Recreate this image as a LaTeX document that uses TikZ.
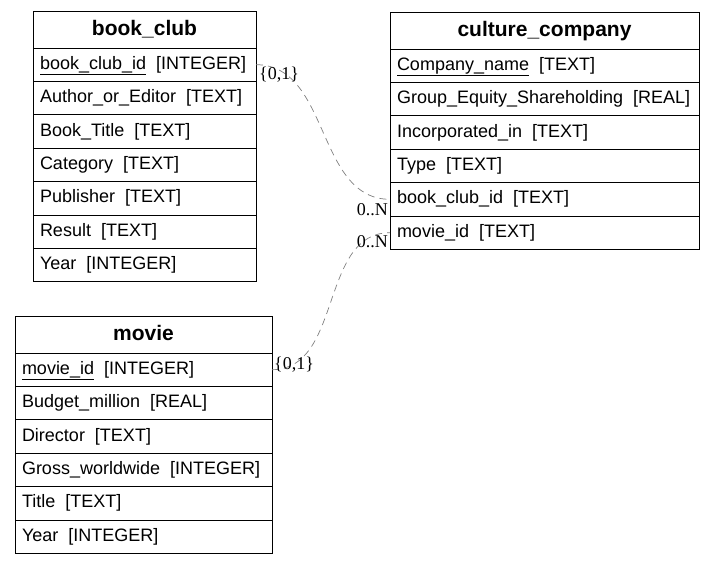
\documentclass[tikz,border=0pt]{standalone}
\usepackage{fontspec}
\setmainfont{Liberation Serif}
\newfontfamily\tblfont{Liberation Sans}
\usetikzlibrary{positioning}

\tikzset{
  tblhead/.style={draw, line width=0.8pt, outer sep=0pt, inner xsep=7pt, inner ysep=0pt,
    minimum height=37pt, font=\tblfont\fontsize{21}{24}\selectfont\bfseries,
    text height=15pt, text depth=4pt},
  tblrow/.style={draw, line width=0.8pt, outer sep=0pt, inner xsep=7pt, inner ysep=0pt,
    minimum height=33.4pt, font=\tblfont\fontsize{18}{21}\selectfont, align=left,
    text height=13pt, text depth=4pt},
  conn/.style={draw=gray, line width=0.7pt, dash pattern=on 7pt off 5pt},
  card/.style={inner sep=1pt, font=\fontsize{18}{20}\selectfont}
}
\newcommand{\fld}[2]{#1\hspace{10pt}[#2]}

\begin{document}
\begin{tikzpicture}[x=1pt, y=-1pt]
  \useasboundingbox (0,0) rectangle (716,565);

  % book_club
  \node[tblhead, anchor=north west, minimum width=223pt] (bc0) at (33,11) {book\_club};
  \foreach \t [count=\i] in {\fld{\underline{book\_club\_id}}{INTEGER}, \fld{Author\_or\_Editor}{TEXT},
      \fld{Book\_Title}{TEXT}, \fld{Category}{TEXT}, \fld{Publisher}{TEXT}, \fld{Result}{TEXT},
      \fld{Year}{INTEGER}} {
    \pgfmathtruncatemacro\j{\i-1}
    \node[tblrow, text width=209pt, below=0pt of bc\j] (bc\i) {\t};
  }

  % culture_company
  \node[tblhead, anchor=north west, minimum width=309pt] (cc0) at (390,12) {culture\_company};
  \foreach \t [count=\i] in {\fld{\underline{Company\_name}}{TEXT}, \fld{Group\_Equity\_Shareholding}{REAL},
      \fld{Incorporated\_in}{TEXT}, \fld{Type}{TEXT}, \fld{book\_club\_id}{TEXT}, \fld{movie\_id}{TEXT}} {
    \pgfmathtruncatemacro\j{\i-1}
    \node[tblrow, text width=295pt, below=0pt of cc\j] (cc\i) {\t};
  }

  % movie
  \node[tblhead, anchor=north west, minimum width=257pt] (mv0) at (15,316) {movie};
  \foreach \t [count=\i] in {\fld{\underline{movie\_id}}{INTEGER}, \fld{Budget\_million}{REAL},
      \fld{Director}{TEXT}, \fld{Gross\_worldwide}{INTEGER}, \fld{Title}{TEXT}, \fld{Year}{INTEGER}} {
    \pgfmathtruncatemacro\j{\i-1}
    \node[tblrow, text width=243pt, below=0pt of mv\j] (mv\i) {\t};
  }

  % relations
  \draw[conn] (bc1.east) to[out=0, in=180] (cc5.west);
  \node[card, anchor=north west] (l1a) at ([xshift=2pt, yshift=-1pt]bc1.east) {\{0,1\}};
  \node[card, anchor=north east] (l1b) at ([xshift=-1pt, yshift=-3pt]cc5.west) {0..N};

  \draw[conn] (mv1.east) to[out=0, in=180] (cc6.west);
  \node[card, anchor=west] (l2a) at ([xshift=1pt, yshift=5pt]mv1.east) {\{0,1\}};
  \node[card, anchor=north east] (l2b) at ([xshift=-1pt, yshift=-2pt]cc6.west) {0..N};
\end{tikzpicture}
\end{document}
